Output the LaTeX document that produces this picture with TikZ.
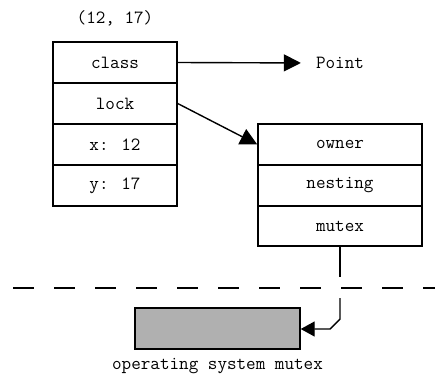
\documentclass[tikz,border=0pt]{standalone}
\usepackage{fontspec}
\usetikzlibrary{arrows.meta}
\definecolor{osgray}{HTML}{B0B0B0}
\begin{document}
\begin{tikzpicture}[x=1pt,y=-1pt,
  every node/.style={font=\ttfamily\fontsize{18.6}{20}\selectfont},
  cell/.style={draw=black,line width=1.4pt,minimum height=41pt,inner sep=0pt,anchor=center},
  lcell/.style={cell,minimum width=124pt},
  rcell/.style={cell,minimum width=164pt},
  link/.style={line width=1.4pt,-{Triangle[length=17pt,width=17pt]}},
  plain/.style={line width=1.4pt},
  label/.style={inner sep=0pt}]
  \useasboundingbox (0,0) rectangle (435,375);

  % object header and fields
  \node[label] (title) at (115,18) {(12, 17)};
  \node[lcell] (class) at (115,62.5) {class};
  \node[lcell] (lock)  at (115,103.5) {lock};
  \node[lcell] (x)     at (115,144.5) {x: 12};
  \node[lcell] (y)     at (115,185.5) {y: 17};

  % class pointer
  \node[label] (pt) at (340,63) {Point};
  \draw[link,shorten >=15pt] (class.east) -- (pt.west);

  % lock record
  \node[rcell] (owner)   at (340,144.5) {owner};
  \node[rcell] (nesting) at (340,185.5) {nesting};
  \node[rcell,minimum height=40pt] (mutex) at (340,226) {mutex};
  \draw[link] (lock.east) -- (owner.west);

  % user / kernel boundary
  \coordinate (bl) at (13,288);
  \coordinate (br) at (440,288);
  \draw[line width=2pt,dash pattern=on 20.5pt off 20.5pt] (bl) -- (br);

  % operating system mutex
  \node[draw=black,line width=1.4pt,fill=osgray,minimum width=165pt,minimum height=41pt,inner sep=0pt] (os) at (217.5,328.5) {};
  \node[label] (oslabel) at (217.5,366) {operating system mutex};

  % link from mutex field, broken at the boundary
  \coordinate (above) at (340,277);
  \coordinate (below) at (340,298);
  \coordinate (bend)  at (340,319);
  \coordinate (turn)  at (330,329);
  \draw[plain] (mutex.south) -- (above);
  \draw[line width=1.4pt,-{Triangle[length=14pt,width=15pt]}] (below) -- (bend) -- (turn) -- (os.east |- turn);
\end{tikzpicture}
\end{document}
